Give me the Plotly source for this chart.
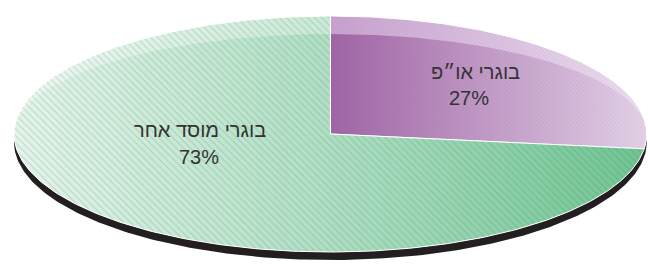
import numpy as np
import plotly.graph_objects as go

# ---- data ----
labels = ["בוגרי או״פ", "בוגרי מוסד אחר"]
values = [27, 73]
pct_text = ["27%", "73%"]

# ---- style ----
W, H = 648, 265
CX_PX, CY_PX = 331, 134
RX_PX, RY_PX = 317, 118
RY_INNER_PX = 100          # upper rim band
SHADOW_DY_PX = 8

xmin = -CX_PX / RX_PX
xmax = (W - CX_PX) / RX_PX + 0.004
ymax = CY_PX / RY_PX
ymin = -(H - CY_PX) / RY_PX

main_scales = [
    [[0, "#a065a5"], [1, "#e4d2e8"]],   # purple
    [[0, "#e4f4ea"], [0.55, "#a9dcbf"], [1, "#70c492"]],  # green
]
band_scales = [
    [[0, "#c9a2cf"], [1, "#ecdff0"]],
    [[0, "#eef8f2"], [0.55, "#c6e8d3"], [1, "#a3d9b8"]],
]
pattern_shapes = ["x", "\\"]
pattern_colors = ["rgba(90,40,95,0.3)", "rgba(40,100,70,0.42)"]
pattern_sizes = [3, 5]
# label centre (px) for name line and percent line
name_px = [(476, 72), (200, 130)]
pct_px = [(470, 98), (199, 157)]


def px_to_xy(px, py):
    return (px - CX_PX) / RX_PX, (CY_PX - py) / RY_PX


def slice_path(a0, a1, ry_up=1.0, dy=0.0):
    th = np.linspace(a0, a1, 300)
    s = np.sin(th)
    ry = np.where(s > 0, ry_up, 1.0)
    xs = np.concatenate([[0], np.cos(th), [0]])
    ys = np.concatenate([[0], ry * s, [0]]) + dy
    return xs, ys


fig = go.Figure()

# shadow / thickness
th = np.linspace(0, 2 * np.pi, 400)
dy = -SHADOW_DY_PX / RY_PX
fig.add_trace(go.Scatter(x=np.cos(th), y=np.sin(th) + dy, mode="lines",
                         fill="toself", fillcolor="#231f20",
                         line=dict(color="#231f20", width=0), hoverinfo="skip"))

total = sum(values)
start = np.pi / 2
angles = []
for v in values:
    end = start - 2 * np.pi * v / total
    angles.append((start, end))
    start = end

ry_in = RY_INNER_PX / RY_PX
for i, (a0, a1) in enumerate(angles):
    xs, ys = slice_path(a0, a1)
    fig.add_trace(go.Scatter(x=xs, y=ys, mode="lines", fill="toself",
                             fillgradient=dict(type="horizontal", colorscale=band_scales[i]),
                             line=dict(width=0), hoverinfo="skip"))
    xi, yi = slice_path(a0, a1, ry_up=ry_in)
    fig.add_trace(go.Scatter(x=xi, y=yi, mode="lines", fill="toself",
                             fillgradient=dict(type="horizontal", colorscale=main_scales[i]),
                             line=dict(width=0), hoverinfo="skip"))
    fig.add_trace(go.Scatter(x=xs, y=ys, mode="lines", fill="toself",
                             fillcolor="rgba(0,0,0,0)",
                             fillpattern=dict(shape=pattern_shapes[i], fgcolor=pattern_colors[i],
                                              bgcolor="rgba(0,0,0,0)", size=pattern_sizes[i],
                                              solidity=0.2),
                             line=dict(color="white", width=1), hoverinfo="skip"))

font = dict(family="Liberation Sans, Arial", size=20, color="#333333")
for i in range(len(values)):
    for txt, (px, py) in ((labels[i], name_px[i]), (pct_text[i], pct_px[i])):
        x, y = px_to_xy(px, py)
        fig.add_annotation(x=x, y=y, xref="x", yref="y", text=txt, showarrow=False,
                           font=font, xanchor="center", yanchor="middle")

fig.update_layout(width=W, height=H, margin=dict(l=0, r=0, t=0, b=0),
                  paper_bgcolor="white", plot_bgcolor="white", showlegend=False,
                  xaxis=dict(range=[xmin, xmax], visible=False, fixedrange=True),
                  yaxis=dict(range=[ymin, ymax], visible=False, fixedrange=True))

fig.write_html("out.html", config={"displayModeBar": False},
               post_script="document.body.style.margin='0px';")
